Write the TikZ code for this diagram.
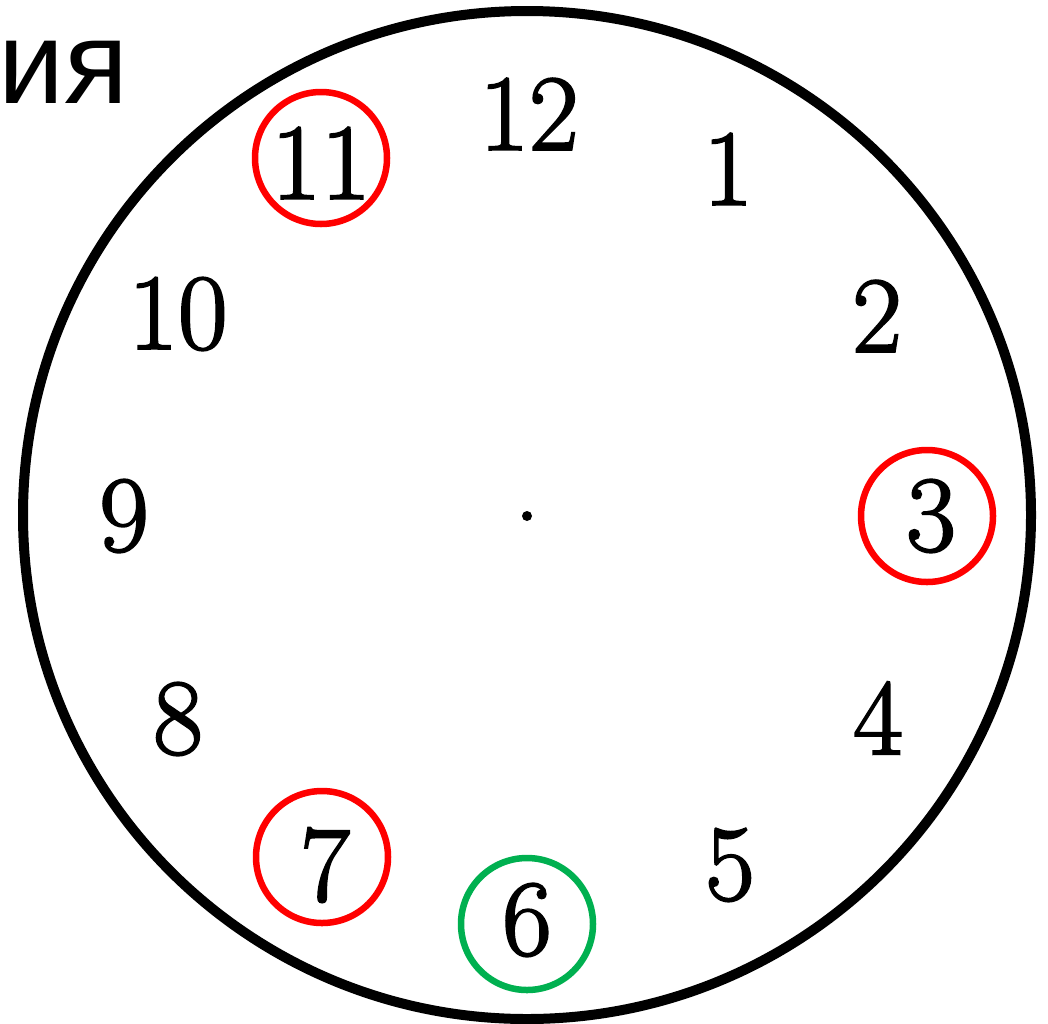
\documentclass[tikz,border=0pt]{standalone}
\usepackage{fontspec}
\newfontfamily\cyrfont{Liberation Sans}
\newfontfamily\digitfont{Latin Modern Roman}[RawFeature={embolden=2}]
\definecolor{clkgreen}{RGB}{0,176,80}
\definecolor{clkred}{RGB}{255,0,0}
\begin{document}
\begin{tikzpicture}[x=1pt,y=-1pt,
  digit/.style={inner sep=0pt,font=\digitfont\fontsize{108}{108}\selectfont},
  ring/.style={circle,draw,line width=6.5pt,minimum size=132pt,inner sep=0pt},
]
\useasboundingbox (0,0) rectangle (1048,1023);
\node[circle,draw,line width=10pt,minimum size=1008pt,inner sep=0pt] (face) at (527,515) {};
\fill (527,516) circle (5);
\node[inner sep=0pt,anchor=base west,font=\cyrfont\fontsize{118}{118}\selectfont] (word) at (-2,103) {ия};
\node[digit] (d12) at (529,114) {12};
\node[digit] (d1) at (728,169) {1};
\node[digit] (d2) at (877,316) {2};
\node[digit] (d3) at (931,516) {3};
\node[digit] (d4) at (878,718) {4};
\node[digit] (d5) at (730,865) {5};
\node[digit] (d6) at (527,920) {6};
\node[digit] (d7) at (325,865) {7};
\node[digit] (d8) at (178,719) {8};
\node[digit] (d9) at (124,516) {9};
\node[digit] (d10) at (178,314) {10};
\node[digit] (d11) at (321,163) {11};
\node[ring,draw=clkred] (r11) at (321,158) {};
\node[ring,draw=clkred] (r3) at (927,516) {};
\node[ring,draw=clkred] (r7) at (322,857) {};
\node[ring,draw=clkgreen] (r6) at (527,924) {};
\end{tikzpicture}
\end{document}
